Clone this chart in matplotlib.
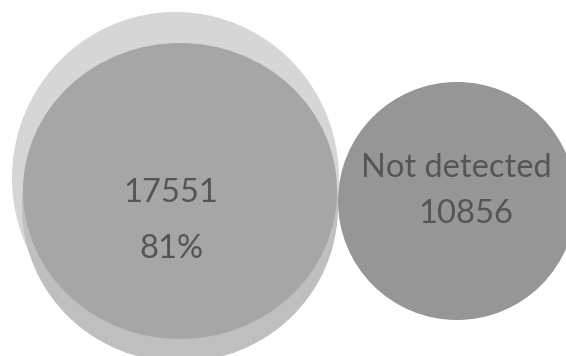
import matplotlib
matplotlib.use("Agg")
import matplotlib.pyplot as plt
from matplotlib.patches import Ellipse

# Counts shown in the diagram
detected_count = 17551
detected_share = "81%"
not_detected_label = "Not detected"
not_detected_count = 10856

plt.rcParams["font.family"] = ["Lato", "DejaVu Sans"]

fig = plt.figure(figsize=(5.66, 3.56), dpi=100)
ax = fig.add_axes([0, 0, 1, 1])
ax.set_xlim(0, 566)
ax.set_ylim(356, 0)
ax.set_aspect("equal")
ax.axis("off")

# Left group: outer light set, lower medium set, detected set on top
ax.add_patch(Ellipse((175.5, 178), 327, 332, facecolor="#d6d6d6", edgecolor="none"))
ax.add_patch(Ellipse((180, 207), 316, 310, facecolor="#bfbfbf", edgecolor="none"))
ax.add_patch(Ellipse((180, 191), 314, 296, facecolor="#a6a6a6", edgecolor="none"))

# Right set: not detected
ax.add_patch(Ellipse((457, 201), 238, 238, facecolor="#969696", edgecolor="none"))

txt = dict(color="#555555", fontsize=23.5, ha="center", va="baseline")
ax.text(171, 202, f"{detected_count}", **txt)
ax.text(171, 258, detected_share, **txt)
ax.text(456, 177, not_detected_label, **txt)
ax.text(466, 223, f"{not_detected_count}", **txt)

fig.savefig("out.png", dpi=100)
